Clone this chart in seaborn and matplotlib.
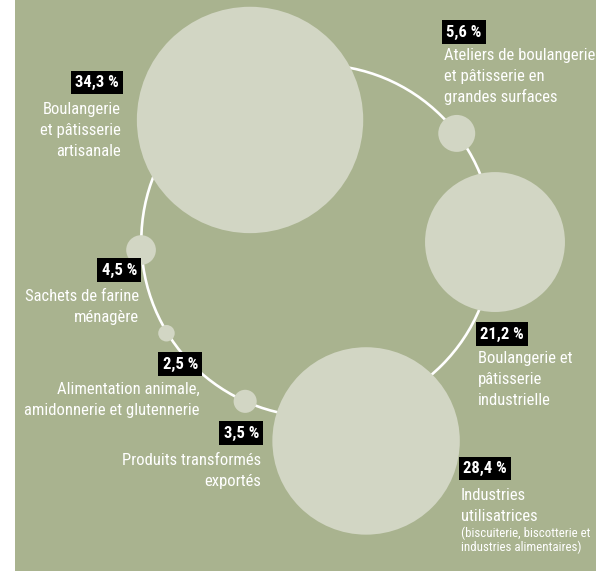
import matplotlib
matplotlib.use('Agg')
import matplotlib.pyplot as plt
from matplotlib.patches import Circle
import numpy as np
import pandas as pd
import seaborn as sns

COLOUR_BG = '#a9b38f'        # olive background
COLOUR_BUBBLE = '#d2d6c4'    # pale bubbles
COLOUR_RING = '#ffffff'

# data
shares = [34.3, 5.6, 21.2, 28.4, 3.5, 2.5, 4.5]
titles = [
    ['Boulangerie', 'et pâtisserie', 'artisanale'],
    ['Ateliers de boulangerie', 'et pâtisserie en', 'grandes surfaces'],
    ['Boulangerie et', 'pâtisserie', 'industrielle'],
    ['Industries', 'utilisatrices'],
    ['Produits transformés', 'exportés'],
    ['Alimentation animale,', 'amidonnerie et glutennerie'],
    ['Sachets de farine', 'ménagère'],
]
notes = [[], [], [], ['(biscuiterie, biscotterie et', 'industries alimentaires)'], [], [], []]

# layout (pixel space): bubbles placed around a ring
ring_centre = (317.3, 240.8)
ring_radius = 176
bubble_angle = [119.1, 37.6, -0.4, -76.3, -114.2, -148.5, -177.0]
bubble_dist = [138.3, 176, 177.7, 206.0, 176, 176.9, 176.5]
px_per_pct = 3.3

# label anchors: x, box centre y, first text baseline, alignment
label_x = [122, 443, 477, 460, 262, 201, 140]
box_y = [82.5, 32, 334, 468.5, 433, 364, 270]
text_y = [114, 60, 363, 500, 465, 394, 301]
align = ['right', 'left', 'left', 'left', 'right', 'right', 'right']
line_gap = 20.8
note_gap = 14.3

W, H = 596, 572
fig = plt.figure(figsize=(W / 100, H / 100), dpi=100, facecolor='white')
ax = fig.add_axes([15 / W, 1 / H, (W - 15) / W, (H - 1) / H])
ax.set_facecolor(COLOUR_BG)
ax.set_xlim(15, W)
ax.set_ylim(H - 1, 0)
ax.set_axis_off()
fig.patches.append(plt.Rectangle((15 / W, 1 / H), (W - 15) / W, (H - 1) / H,
                                 transform=fig.transFigure, fc=COLOUR_BG, ec='none', zorder=-10))

ax.add_patch(Circle(ring_centre, ring_radius, fill=False, ec=COLOUR_RING, lw=1.9, zorder=1))

ang = np.radians(bubble_angle)
df = pd.DataFrame({
    'share': shares,
    'x': ring_centre[0] + np.array(bubble_dist) * np.cos(ang),
    'y': ring_centre[1] - np.array(bubble_dist) * np.sin(ang),
})
# marker area in pt^2 so that the radius grows linearly with the share
size_map = {v: (2 * v * px_per_pct * 0.72) ** 2 for v in shares}
sns.scatterplot(data=df, x='x', y='y', size='share', sizes=size_map,
                color=COLOUR_BUBBLE, edgecolor='none', linewidth=0,
                legend=False, ax=ax, zorder=2)

FONT = ['Roboto Condensed', 'Roboto', 'DejaVu Sans']
for i, v in enumerate(shares):
    pct = f'{v:.1f}'.replace('.', ',') + ' %'
    bx = label_x[i] + (3 if align[i] == 'left' else -3)
    ax.text(bx, box_y[i], pct, ha=align[i], va='center', family=FONT,
            fontsize=12, fontweight='bold', color='white', zorder=5,
            bbox=dict(boxstyle='square,pad=0.25', fc='black', ec='none'))
    tx = label_x[i] + (1 if align[i] == 'left' else -1)
    for j, line in enumerate(titles[i]):
        ax.text(tx, text_y[i] + j * line_gap, line, ha=align[i], va='baseline',
                family=FONT, fontsize=12, color='white', zorder=5)
    for j, line in enumerate(notes[i]):
        ax.text(tx, text_y[i] + len(titles[i]) * line_gap - 5 + j * note_gap, line,
                ha=align[i], va='baseline', family=FONT, fontsize=9.3, color='white', zorder=5)

fig.savefig('out.png', dpi=100, facecolor='white')
